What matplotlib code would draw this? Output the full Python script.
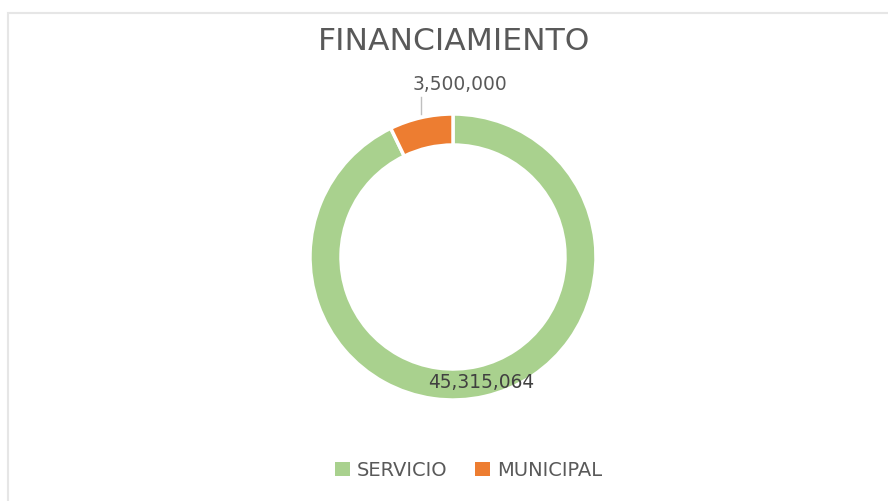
import numpy as np
import matplotlib
matplotlib.use("Agg")
import matplotlib.pyplot as plt
from matplotlib.patches import Patch, Rectangle

title = "FINANCIAMIENTO"
categories = ["SERVICIO", "MUNICIPAL"]
values = [45315064, 3500000]
colors = ["#A9D18E", "#ED7D31"]

W, H = 888, 501
fig = plt.figure(figsize=(W / 100, H / 100), dpi=100)
fig.patch.set_facecolor("white")
ax = fig.add_axes([0, 0, 1, 1])

cx, cy, R, ring = 453, H - 257, 143, 31
txt = "#595959"

wedges, _ = ax.pie(values, colors=colors, startangle=90, counterclock=False,
                   radius=R, center=(cx, cy), frame=True,
                   wedgeprops=dict(width=ring, edgecolor="white", linewidth=2.5))
ax.set_xlim(0, W)
ax.set_ylim(0, H)
ax.set_aspect("auto")
ax.axis("off")

# chart-area border (light gray, cropped on right and bottom)
ax.add_patch(Rectangle((8, -20), W + 20, H - 13 + 20, fill=False,
                       edgecolor="#e6e6e6", linewidth=1.5))

fs = 13.4
# MUNICIPAL label with leader line
w = wedges[1]
mid = np.deg2rad((w.theta1 + w.theta2) / 2)
px, py = cx + R * np.cos(mid), cy + R * np.sin(mid)
ax.plot([px, px], [py + 4, H - 97], color="#bfbfbf", linewidth=1)
ax.text(460, H - 90, f"{values[1]:,}", ha="center", va="baseline",
        fontsize=fs, color=txt)
# SERVICIO label
ax.text(481.5, H - 388, f"{values[0]:,}", ha="center", va="baseline",
        fontsize=fs, color="#404040")

fig.text(454 / W, 1 - 50 / H, title, ha="center", va="baseline",
         fontsize=22.6, color=txt)

handles = [Patch(facecolor=c, edgecolor="none") for c in colors]
leg = fig.legend(handles, categories, loc="center", ncol=2,
                 bbox_to_anchor=(468.5 / W, 1 - 470 / H), frameon=False,
                 fontsize=14, handlelength=0.75, handleheight=0.75,
                 handletextpad=0.35, columnspacing=1.45)
for t in leg.get_texts():
    t.set_color(txt)

fig.savefig("out.png", dpi=100)
